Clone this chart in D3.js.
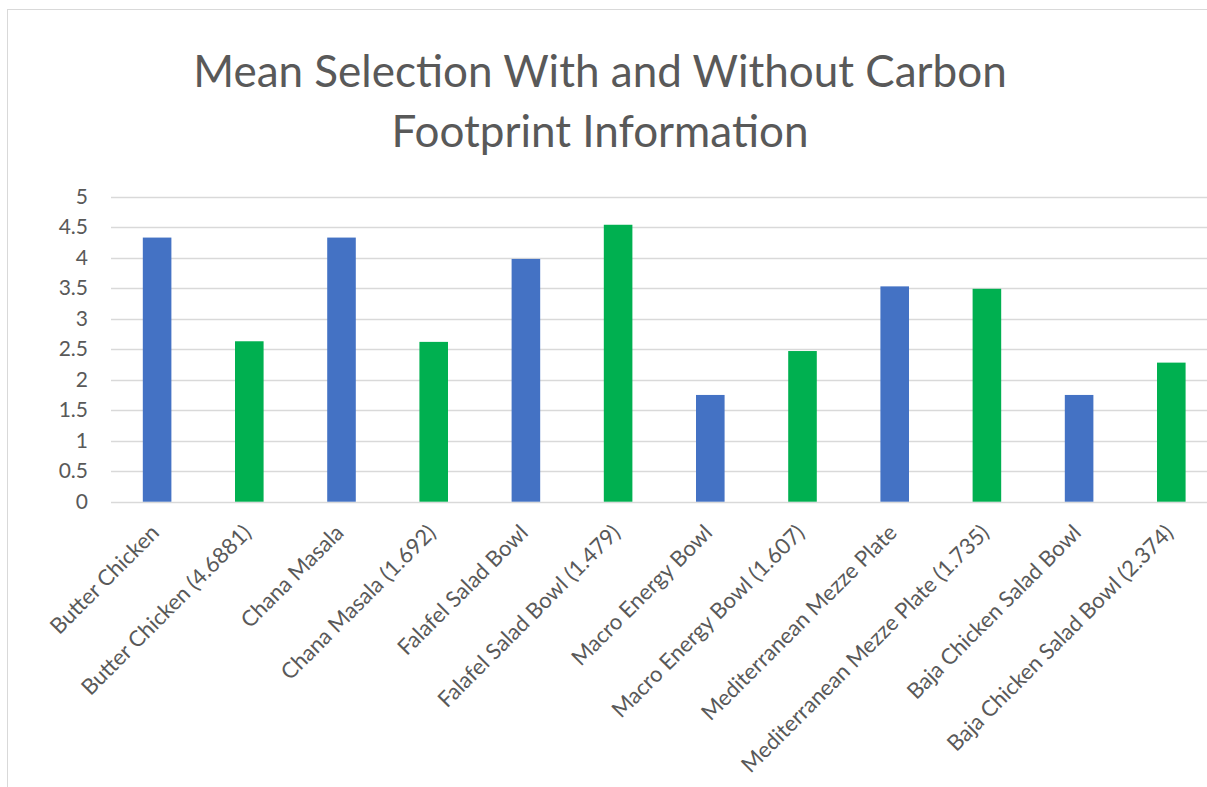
<!DOCTYPE html>
<html>
<head>
<meta charset="utf-8">
<script src="https://cdn.jsdelivr.net/npm/d3@7"></script>
<style>
  html, body { margin: 0; padding: 0; background: #fff; }
  svg { display: block; }
  text { font-family: Lato, "Open Sans", sans-serif; fill: #595959; }
</style>
</head>
<body>
<svg id="chart" width="1207" height="787"></svg>
<script>
const titleLines = ["Mean Selection With and Without Carbon", "Footprint Information"];
const categories = [
  "Butter Chicken", "Butter Chicken (4.6881)",
  "Chana Masala", "Chana Masala (1.692)",
  "Falafel Salad Bowl", "Falafel Salad Bowl (1.479)",
  "Macro Energy Bowl", "Macro Energy Bowl (1.607)",
  "Mediterranean Mezze Plate", "Mediterranean Mezze Plate (1.735)",
  "Baja Chicken Salad Bowl", "Baja Chicken Salad Bowl (2.374)"
];
const values = [4.33, 2.63, 4.33, 2.62, 3.98, 4.54, 1.75, 2.47, 3.53, 3.49, 1.75, 2.28];
const seriesOf = ["without", "with", "without", "with", "without", "with", "without", "with", "without", "with", "without", "with"];
const seriesNames = ["without", "with"];
const seriesColors = ["#4472C4", "#00B050"];
const yTicks = [0, 0.5, 1, 1.5, 2, 2.5, 3, 3.5, 4, 4.5, 5];

const svg = d3.select("#chart");
const W = 1207, H = 787;

svg.append("rect").attr("x", 0).attr("y", 0).attr("width", W).attr("height", H).attr("fill", "#fff");
// chart area border (extends past the right/bottom of the frame)
svg.append("rect").attr("x", 7.5).attr("y", 9.5).attr("width", W + 20).attr("height", H + 20)
  .attr("fill", "none").attr("stroke", "#d9d9d9").attr("stroke-width", 1);

const plotLeft = 111, plotRight = 1217.4;
const x = d3.scaleBand().domain(categories).range([plotLeft, plotRight]).paddingInner(0.69).paddingOuter(0.345);
const y = d3.scaleLinear().domain([0, 5]).range([501.7, 196.7]);
const color = d3.scaleOrdinal().domain(seriesNames).range(seriesColors);

// gridlines
svg.append("g").selectAll("line").data(yTicks).join("line")
  .attr("x1", plotLeft).attr("x2", W)
  .attr("y1", d => Math.round(y(d)) + 0.5).attr("y2", d => Math.round(y(d)) + 0.5)
  .attr("stroke", "#d9d9d9").attr("stroke-width", 1.3);

// y axis labels
const yAxis = d3.axisLeft(y).tickValues(yTicks).tickSize(0).tickPadding(0).tickFormat(d => String(d));
const gy = svg.append("g").attr("transform", `translate(88,0)`).call(yAxis);
gy.select(".domain").remove();
gy.selectAll("text").style("font-size", "21px").style("font-family", "Lato, sans-serif").attr("fill", "#595959");

// bars
svg.append("g").selectAll("rect").data(values).join("rect")
  .attr("x", (d, i) => x(categories[i]))
  .attr("width", x.bandwidth())
  .attr("y", d => y(d))
  .attr("height", d => y(0) - y(d))
  .attr("fill", (d, i) => color(seriesOf[i]));

// category labels
const xAxis = d3.axisBottom(x).tickSize(0).tickPadding(0);
const gx = svg.append("g").attr("transform", `translate(0,${y(0)})`).call(xAxis);
gx.select(".domain").remove();
gx.selectAll(".tick text")
  .attr("text-anchor", "end")
  .attr("x", 0).attr("y", 0).attr("dy", "0.35em")
  .attr("transform", "translate(-2,27) rotate(-45)")
  .style("font-size", "22px").style("font-family", "Lato, sans-serif").attr("fill", "#595959");

// title
svg.append("g").selectAll("text").data(titleLines).join("text")
  .attr("x", 600).attr("y", (d, i) => 87 + i * 60)
  .attr("text-anchor", "middle")
  .style("font-size", "44px")
  .text(d => d);
</script>
</body>
</html>
